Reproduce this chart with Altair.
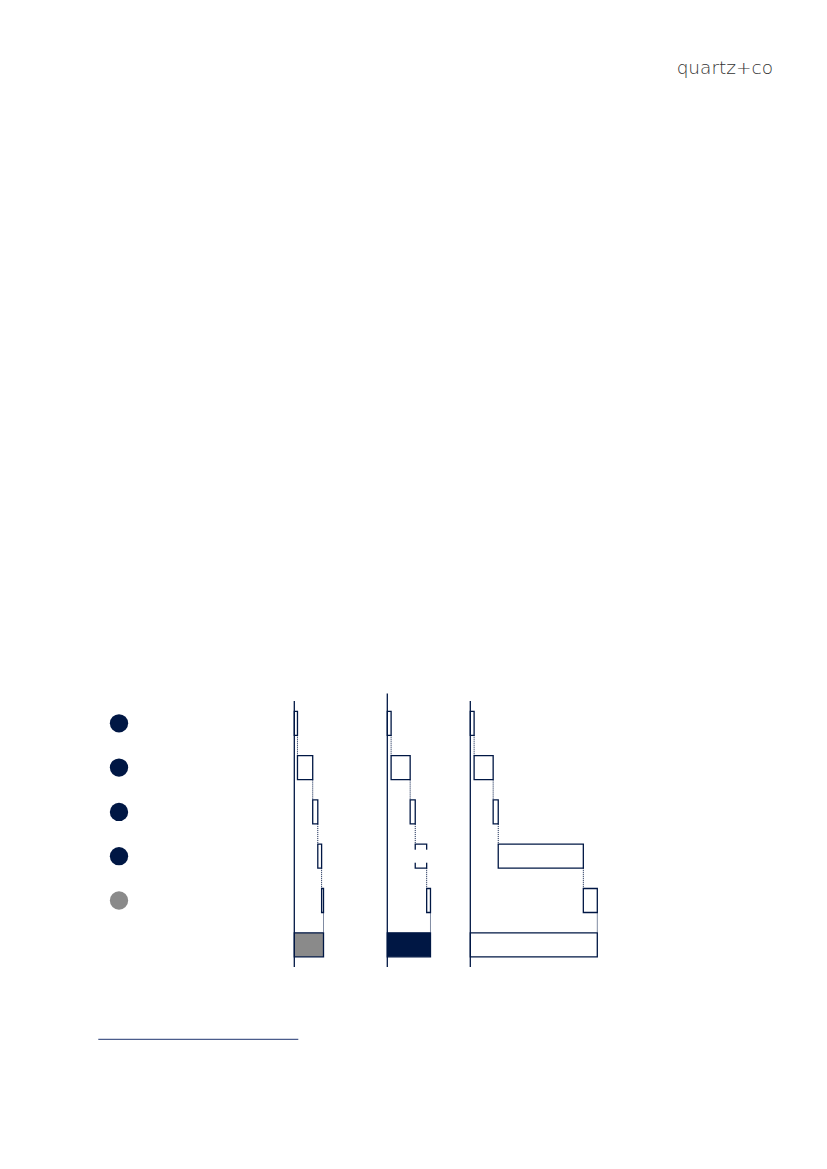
import altair as alt
import pandas as pd

# ---- data -------------------------------------------------------------
panel_names = ["Panel 1", "Panel 2", "Panel 3"]
step_values = {
    "Panel 1": [2.5, 12, 4, 3, 1.5],
    "Panel 2": [3, 15, 4, 9, 3],
    "Panel 3": [3, 15, 4, 67, 11],
}
circle_rows = [0, 1, 2, 3, 4]
logo_text = "quartz+co"

# ---- styles / layout ------------------------------------------------
NAVY = "#001744"
GRAY = "#8a8a8a"
PX_PER_UNIT = 1.27
AXIS_X = {"Panel 1": 286.3, "Panel 2": 379.3, "Panel 3": 462.3}
AXIS_TOP = {"Panel 1": 693, "Panel 2": 685.5, "Panel 3": 693}
AXIS_BOTTOM = 959
TOTAL_FILL = {"Panel 1": GRAY, "Panel 2": NAVY, "Panel 3": "white"}
HALF = 0.271
GAP_HALF = 0.147

yscale = alt.Scale(domain=[0, 5], range=[715.3, 936.8], nice=False, zero=False)


def panel_layer(name):
    vals = step_values[name]
    total = sum(vals)
    rows = []
    cum = 0
    for i, v in enumerate(vals):
        rows.append({"row": i, "start": cum, "end": cum + v, "kind": "step"})
        cum += v
    rows.append({"row": 5, "start": 0, "end": total, "kind": "total"})
    df = pd.DataFrame(rows)
    df["y0"] = df["row"] - HALF
    df["y1"] = df["row"] + HALF

    conn = pd.DataFrame(
        [{"x": df.loc[i, "end"], "ya": i + HALF, "yb": i + 1 - HALF} for i in range(5)]
    )

    ax = AXIS_X[name]
    xscale = alt.Scale(domain=[0, total], range=[ax, ax + total * PX_PER_UNIT],
                       nice=False, zero=True)

    steps = alt.Chart(df[df.kind == "step"]).mark_rect(
        fill="white", stroke=NAVY, strokeWidth=1.3
    ).encode(
        x=alt.X("start:Q", scale=xscale, axis=None),
        x2="end:Q",
        y=alt.Y("y0:Q", scale=yscale, axis=None),
        y2="y1:Q",
    )
    tot = alt.Chart(df[df.kind == "total"]).mark_rect(
        fill=TOTAL_FILL[name], stroke=NAVY, strokeWidth=1.3
    ).encode(
        x=alt.X("start:Q", scale=xscale, axis=None),
        x2="end:Q",
        y=alt.Y("y0:Q", scale=yscale, axis=None),
        y2=alt.Y2("y1:Q"),
    )
    connectors = alt.Chart(conn).mark_rule(
        color=NAVY, strokeWidth=1, strokeDash=[1, 1]
    ).encode(
        x=alt.X("x:Q", scale=xscale, axis=None),
        y=alt.Y("ya:Q", scale=yscale, axis=None),
        y2="yb:Q",
    )
    axis_line = alt.Chart(pd.DataFrame({"x0": [0]})).mark_rule(
        color=NAVY, strokeWidth=1.3
    ).encode(
        x=alt.X("x0:Q", scale=xscale, axis=None),
        y=alt.value(AXIS_TOP[name]),
        y2=alt.value(AXIS_BOTTOM),
    )
    layers = [steps, tot, connectors, axis_line]
    if name == "Panel 2":
        gap = df[df.row == 3].copy()
        gap["g0"] = gap["row"] - GAP_HALF
        gap["g1"] = gap["row"] + GAP_HALF
        white_gap = alt.Chart(gap).mark_rect(
            fill="white", xOffset=-2, x2Offset=2
        ).encode(
            x=alt.X("start:Q", scale=xscale, axis=None),
            x2="end:Q",
            y=alt.Y("g0:Q", scale=yscale, axis=None),
            y2="g1:Q",
        )
        layers.append(white_gap)
    return alt.layer(*layers)


circles = alt.Chart(pd.DataFrame({"row": circle_rows})).mark_circle(
    size=336, opacity=1
).encode(
    x=alt.value(111),
    y=alt.Y("row:Q", scale=yscale, axis=None),
    color=alt.condition(alt.datum.row == 4, alt.value(GRAY), alt.value(NAVY)),
)

logo = alt.Chart(pd.DataFrame({"t": [logo_text]})).mark_text(
    align="right", baseline="alphabetic", font="DejaVu Sans", fontWeight=200,
    fontSize=18.5, color="#333333"
).encode(
    x=alt.value(765), y=alt.value(66), text="t:N"
)

footnote_line = alt.Chart(pd.DataFrame({"a": [0]})).mark_rule(
    color="#4b5d8c", strokeWidth=1.2
).encode(
    x=alt.value(90.3), x2=alt.value(290.3), y=alt.value(1031.3)
)

chart = alt.layer(
    *[panel_layer(n) for n in panel_names], circles, logo, footnote_line
).resolve_scale(x="independent").properties(
    width=811, height=1153, padding=0, autosize=alt.AutoSizeParams(type="none")
).configure_view(stroke=None)

chart.save("out.html", embed_options={"renderer": "svg", "actions": False})
